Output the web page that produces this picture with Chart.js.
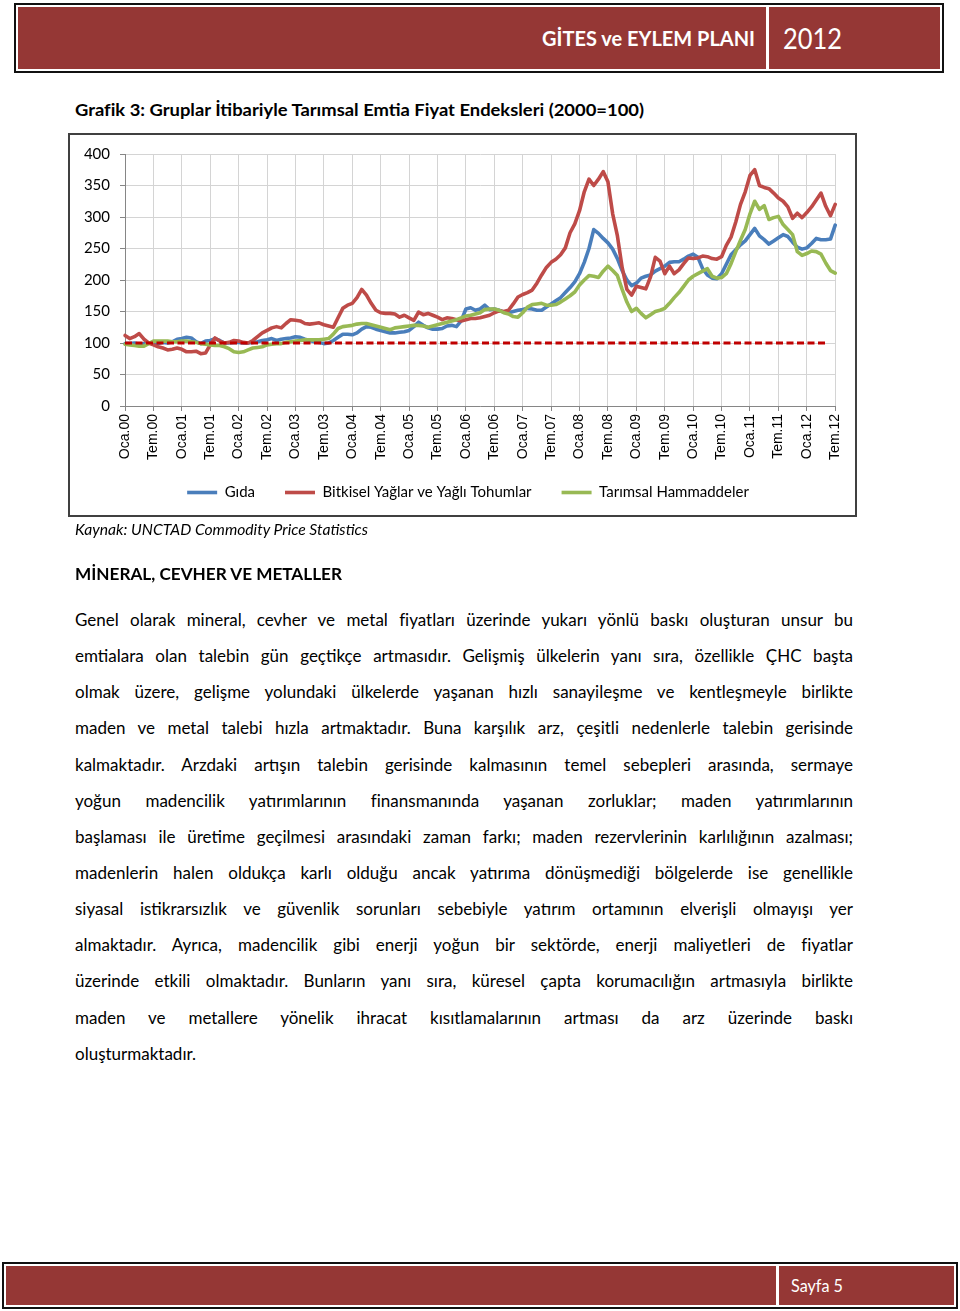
<!DOCTYPE html>
<html lang="tr">
<head>
<meta charset="utf-8">
<title>Grafik 3</title>
<script src="https://cdn.jsdelivr.net/npm/chart.js@4.4.1/dist/chart.umd.min.js"></script>
<style>
  html, body { margin: 0; padding: 0; background: #fff; }
  body { width: 960px; height: 1311px; position: relative; overflow: hidden; font-family: Lato, "Open Sans", sans-serif; color: #000; }
  .abs { position: absolute; white-space: nowrap; }
  .fit { transform-origin: left center; display: inline-block; }
  .frame { position: absolute; box-sizing: border-box; border: 2px solid #111; background: #fff; }
  .band { position: absolute; background: #953735; }
  .divider { position: absolute; background: #fff; }
  .line { position: absolute; left: 75px; width: 778px; height: 24px; line-height: 24px; font-size: 17px; white-space: nowrap; text-align: justify; text-align-last: justify; }
  .line.last { text-align: left; text-align-last: left; }
  #chartBox { position: absolute; left: 68px; top: 133px; width: 789px; height: 384px; box-sizing: border-box; border: 2px solid #404040; }
  #chartWrap { position: absolute; left: 70px; top: 135px; width: 785px; height: 388px; }
</style>
</head>
<body>

<!-- header -->
<div class="frame" style="left:14px; top:3px; width:930px; height:70px;"></div>
<div class="band" style="left:18px; top:7px; width:922px; height:62px;"></div>
<div class="divider" style="left:766px; top:7px; width:3px; height:62px;"></div>
<div class="abs fit" data-w="213" style="left:542px; top:24px; height:28px; line-height:28px; font-size:21px; font-weight:bold; color:#fff;">GİTES ve EYLEM PLANI</div>
<div class="abs fit" data-w="59" style="left:783px; top:20px; height:36px; line-height:36px; font-size:28px; color:#fff;">2012</div>

<!-- title -->
<div class="abs fit" data-w="569" style="left:75px; top:98px; height:24px; line-height:24px; font-size:17px; font-weight:bold;">Grafik 3: Gruplar İtibariyle Tarımsal Emtia Fiyat Endeksleri (2000=100)</div>

<!-- chart -->
<div id="chartBox"></div>
<div id="chartWrap"><canvas id="priceChart"></canvas></div>

<div class="abs fit" data-w="293" style="left:75px; top:519px; height:20px; line-height:20px; font-size:15px; font-style:italic;">Kaynak: UNCTAD Commodity Price Statistics</div>

<div class="abs fit" data-w="267" style="left:75px; top:562px; height:24px; line-height:24px; font-size:17px; font-weight:bold;">MİNERAL, CEVHER VE METALLER</div>

<!-- body text, one div per printed line -->
<div class="line" style="top:608px;">Genel olarak mineral, cevher ve metal fiyatları üzerinde yukarı yönlü baskı oluşturan unsur bu</div>
<div class="line" style="top:644px;">emtialara olan talebin gün geçtikçe artmasıdır. Gelişmiş ülkelerin yanı sıra, özellikle ÇHC başta</div>
<div class="line" style="top:680px;">olmak üzere, gelişme yolundaki ülkelerde yaşanan hızlı sanayileşme ve kentleşmeyle birlikte</div>
<div class="line" style="top:716px;">maden ve metal talebi hızla artmaktadır. Buna karşılık arz, çeşitli nedenlerle talebin gerisinde</div>
<div class="line" style="top:753px;">kalmaktadır. Arzdaki artışın talebin gerisinde kalmasının temel sebepleri arasında, sermaye</div>
<div class="line" style="top:789px;">yoğun madencilik yatırımlarının finansmanında yaşanan zorluklar; maden yatırımlarının</div>
<div class="line" style="top:825px;">başlaması ile üretime geçilmesi arasındaki zaman farkı; maden rezervlerinin karlılığının azalması;</div>
<div class="line" style="top:861px;">madenlerin halen oldukça karlı olduğu ancak yatırıma dönüşmediği bölgelerde ise genellikle</div>
<div class="line" style="top:897px;">siyasal istikrarsızlık ve güvenlik sorunları sebebiyle yatırım ortamının elverişli olmayışı yer</div>
<div class="line" style="top:933px;">almaktadır. Ayrıca, madencilik gibi enerji yoğun bir sektörde, enerji maliyetleri de fiyatlar</div>
<div class="line" style="top:969px;">üzerinde etkili olmaktadır. Bunların yanı sıra, küresel çapta korumacılığın artmasıyla birlikte</div>
<div class="line" style="top:1006px;">maden ve metallere yönelik ihracat kısıtlamalarının artması da arz üzerinde baskı</div>
<div class="line last" style="top:1042px;">oluşturmaktadır.</div>

<!-- footer -->
<div class="frame" style="left:2px; top:1262px; width:956px; height:47px;"></div>
<div class="band" style="left:6px; top:1266px; width:948px; height:39px;"></div>
<div class="divider" style="left:776px; top:1266px; width:3px; height:39px;"></div>
<div class="abs fit" data-w="52" style="left:791px; top:1275px; height:22px; line-height:22px; font-size:17px; color:#fff;">Sayfa 5</div>

<script>
// Month names and years used to build the category axis
const months = ["Oca", "Şub", "Mar", "Nis", "May", "Haz", "Tem", "Ağu", "Eyl", "Eki", "Kas", "Ara"];
const years = ["00", "01", "02", "03", "04", "05", "06", "07", "08", "09", "10", "11", "12"];
const lastMonth = "Tem.12";

// Index values (2000=100), monthly, Oca.00 - Tem.12
const food = [
  99, 99, 100, 98, 99, 100, 100, 99, 101, 100, 102, 106,
  107, 109, 108, 102, 99, 103, 104, 107, 104, 100, 100, 101,
  101, 100, 100, 101, 102, 104, 105, 107, 104, 106, 107, 108,
  110, 109, 106, 104, 102, 101, 99, 100, 104, 109, 114, 114,
  113, 116, 122, 126, 125, 122, 120, 118, 116, 116, 117, 118,
  120, 126, 133, 128, 124, 122, 122, 123, 127, 128, 126, 135,
  154, 156, 152, 154, 160, 153, 154, 152, 149, 148, 150, 152,
  153, 155, 154, 152, 152, 157, 162, 167, 172, 180, 188, 197,
  210, 228, 250, 280, 274, 266, 259, 249, 234, 215, 200, 191,
  195, 203, 206, 208, 214, 218, 222, 228, 229, 229, 233, 238,
  241, 236, 218, 208, 203, 202, 210, 225, 240, 248, 256, 262,
  272, 282, 270, 264, 257, 262, 267, 272, 269, 260, 252, 249,
  251, 258, 266, 264, 264, 265, 287
];
const vegOils = [
  112, 107, 110, 115, 106, 100, 97, 94, 92, 89, 90, 92,
  90, 86, 86, 87, 83, 84, 97, 108, 103, 100, 101, 104,
  103, 101, 100, 104, 110, 116, 120, 124, 126, 124, 131, 137,
  136, 135, 131, 130, 131, 132, 129, 127, 125, 140, 155, 160,
  163, 172, 185, 176, 163, 152, 148, 147, 147, 146, 141, 144,
  140, 136, 149, 145, 147, 144, 141, 137, 140, 139, 137, 135,
  137, 139, 139, 140, 142, 144, 148, 151, 150, 152, 162, 173,
  177, 180, 184, 195, 208, 220, 228, 233, 240, 251, 275, 289,
  310, 340, 360, 350, 360, 372, 356, 305, 270, 220, 185, 176,
  190, 188, 186, 205, 236, 230, 210, 222, 210, 216, 226, 235,
  234, 235, 238, 237, 234, 233, 237, 255, 268, 292, 320, 340,
  366, 375, 350, 347, 345, 338, 330, 325, 316, 298, 306, 299,
  307, 316, 327, 338, 317, 302, 320
];
const rawMaterials = [
  98, 97, 96, 95, 95, 99, 103, 103, 103, 103, 102, 102,
  103, 103, 102, 101, 99, 98, 97, 96, 96, 94, 91, 86,
  85, 86, 89, 92, 93, 94, 97, 98, 99, 99, 101, 102,
  103, 104, 105, 105, 105, 105, 106, 107, 114, 123, 126, 127,
  128, 130, 131, 131, 129, 127, 125, 123, 121, 124, 125, 126,
  127, 128, 128, 127, 125, 127, 129, 131, 133, 135, 137, 140,
  143, 144, 146, 148, 153, 154, 154, 152, 148, 146, 142, 141,
  148, 157, 161, 162, 163, 160, 160, 161, 165, 170, 175, 181,
  192, 200, 207, 206, 204, 214, 222, 215, 207, 185, 165, 150,
  155, 147, 140, 145, 150, 152, 155, 163, 172, 180, 190, 200,
  206, 210, 214, 218, 206, 203, 204, 210, 226, 245, 263, 280,
  305, 325, 312, 318, 296, 299, 301, 288, 280, 272, 245, 239,
  242, 246, 245, 241, 227, 215, 211
];

// Base year reference line (2000=100)
const baseValue = 100;
const baseFrom = "Oca.00";
const baseTo = "May.12";

const seriesNames = ["Gıda", "Bitkisel Yağlar ve Yağlı Tohumlar", "Tarımsal Hammaddeler"];

const labels = [];
years.forEach(y => months.forEach(m => labels.push(m + "." + y)));
labels.length = labels.indexOf(lastMonth) + 1;

function fitTexts() {
  document.querySelectorAll("[data-w]").forEach(el => {
    el.style.transform = "";
    const w = el.getBoundingClientRect().width;
    el.style.transform = "scaleX(" + (Number(el.dataset.w) / w) + ")";
  });
}

// Pull the legend up under the rotated month labels and a bit to the right
const legendNudge = {
  id: "legendNudge",
  afterLayout(chart) {
    const lg = chart.legend;
    if (!lg) return;
    lg.top -= 11;
    lg.bottom -= 11;
    lg.left += 15;
    lg.right += 15;
  }
};

function initPriceChart(canvasId) {
  const ctx = document.getElementById(canvasId).getContext("2d");
  const gridColor = "#d4d4d4";
  const axisColor = "#868686";

  return new Chart(ctx, {
    type: "line",
    data: {
      labels: labels,
      datasets: [
        { label: seriesNames[0], data: food, borderColor: "#4a7ebb", backgroundColor: "#4a7ebb", borderWidth: 3.6, order: 4 },
        { label: seriesNames[1], data: vegOils, borderColor: "#be4b48", backgroundColor: "#be4b48", borderWidth: 3.6, order: 3 },
        { label: seriesNames[2], data: rawMaterials, borderColor: "#98b954", backgroundColor: "#98b954", borderWidth: 3.6, order: 2 },
        {
          label: "2000=100",
          data: [{ x: baseFrom, y: baseValue }, { x: baseTo, y: baseValue }],
          borderColor: "#c00000",
          borderWidth: 2.8,
          borderDash: [7, 3.5],
          borderCapStyle: "butt",
          order: 1
        }
      ]
    },
    options: {
      responsive: true,
      maintainAspectRatio: false,
      animation: false,
      elements: {
        point: { radius: 0, hoverRadius: 0 },
        line: { tension: 0, borderJoinStyle: "round", borderCapStyle: "round" }
      },
      layout: { padding: { top: 17, right: 19, bottom: 2, left: 0 } },
      scales: {
        x: {
          type: "category",
          offset: false,
          grid: {
            color: c => (c.index % 6 === 0 ? gridColor : "transparent"),
            tickColor: c => (c.index % 6 === 0 ? axisColor : "transparent"),
            tickLength: 5
          },
          border: { color: axisColor, width: 1 },
          ticks: {
            autoSkip: false,
            minRotation: 90,
            maxRotation: 90,
            padding: 3,
            color: "#000",
            font: { family: "Liberation Sans", size: 14 },
            callback: function(value, index) {
              return index % 6 === 0 ? this.getLabelForValue(value) : "";
            }
          },
          afterFit: scale => { scale.height = 60; }
        },
        y: {
          min: 0,
          max: 400,
          grid: { color: gridColor, tickColor: axisColor, tickLength: 5 },
          border: { color: axisColor, width: 1 },
          ticks: {
            stepSize: 50,
            padding: 10,
            color: "#000",
            font: { family: "Lato", size: 15 }
          },
          afterFit: scale => { scale.width = 55; }
        }
      },
      plugins: {
        tooltip: { enabled: false },
        legend: {
          position: "bottom",
          labels: {
            usePointStyle: true,
            pointStyle: "line",
            pointStyleWidth: 30,
            padding: 30,
            color: "#000",
            font: { family: "Lato", size: 15 },
            filter: item => item.datasetIndex < 3,
            sort: (a, b) => a.datasetIndex - b.datasetIndex
          }
        }
      }
    },
    plugins: [legendNudge]
  });
}

document.fonts.ready.then(() => {
  fitTexts();
  initPriceChart("priceChart");
});
</script>
</body>
</html>
